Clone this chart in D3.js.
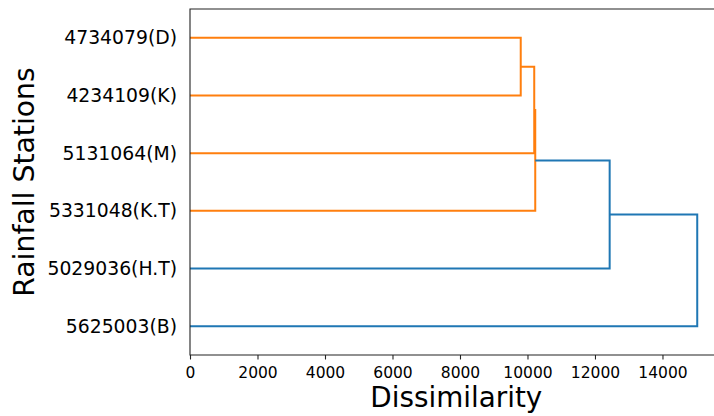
<!DOCTYPE html>
<html>
<head>
<meta charset="utf-8">
<script src="https://cdn.jsdelivr.net/npm/d3@7"></script>
<style>
  body { margin: 0; background: #fff; }
  svg { display: block; font-family: "DejaVu Sans", sans-serif; }
</style>
</head>
<body>
<div id="chart-container"></div>
<script>
// leaves in dendrogram order, bottom to top
const stations = ["5625003(B)", "5029036(H.T)", "5331048(K.T)", "5131064(M)", "4234109(K)", "4734079(D)"];

// linkage rows: cluster a + cluster b joined at distance (new ids start at 6)
const mergeA = [5, 6, 7, 8, 9];
const mergeB = [4, 3, 2, 1, 0];
const mergeDist = [9800, 10200, 10230, 12435, 15030];

const xTicks = [0, 2000, 4000, 6000, 8000, 10000, 12000, 14000];

const width = 714, height = 416;
const margin = { top: 9, left: 190, right: -8.6, bottom: 61 };

const svg = d3.select("#chart-container").append("svg")
  .attr("width", width)
  .attr("height", height);

const x = d3.scaleLinear()
  .domain([0, d3.max(mergeDist) * 1.05])
  .range([margin.left, width - margin.right]);

const y = d3.scaleLinear()
  .domain([0, stations.length * 10])
  .range([height - margin.bottom, margin.top]);

// positions of every cluster (leaves first)
let nodeY = stations.map((d, i) => 5 + i * 10);
let nodeX = stations.map(() => 0);
let links = [];
const threshold = 0.7 * d3.max(mergeDist);

mergeDist.forEach((dist, i) => {
  const a = mergeA[i], b = mergeB[i];
  links.push({
    ya: nodeY[a], xa: nodeX[a],
    yb: nodeY[b], xb: nodeX[b],
    d: dist,
    color: dist < threshold ? "#ff7f0e" : "#1f77b4"
  });
  nodeY.push((nodeY[a] + nodeY[b]) / 2);
  nodeX.push(dist);
});

let g = svg.append("g");

g.selectAll(".link")
  .data(links)
  .enter().append("path")
  .attr("class", "link")
  .attr("fill", "none")
  .attr("stroke", d => d.color)
  .attr("stroke-width", 2)
  .attr("d", d => `M${x(d.xa)},${y(d.ya)}H${x(d.d)}V${y(d.yb)}H${x(d.xb)}`);

// spines (top, left, bottom; right one falls outside the window)
svg.append("path")
  .attr("fill", "none")
  .attr("stroke", "#222")
  .attr("stroke-width", 1.1)
  .attr("d", `M${x.range()[1]},${y(60)}H${x(0)}V${y(0)}H${x.range()[1]}`);

// x axis
const xAxis = svg.append("g")
  .attr("transform", `translate(0,${y(0)})`)
  .call(d3.axisBottom(x).tickValues(xTicks).tickFormat(d3.format("d")).tickSize(4.5).tickPadding(7.2));
xAxis.select(".domain").remove();
xAxis.selectAll("line").attr("stroke", "#222").attr("stroke-width", 1.1);
xAxis.selectAll("text")
  .attr("fill", "#000")
  .style("font-size", "15.5px")
  .style("font-family", "DejaVu Sans");

// y axis with station names
const yAxis = svg.append("g")
  .attr("transform", `translate(${x(0)},0)`)
  .call(d3.axisLeft(y).tickValues(nodeY.slice(0, stations.length)).tickFormat((d, i) => stations[i]).tickSize(0).tickPadding(13));
yAxis.select(".domain").remove();
yAxis.selectAll("text")
  .attr("fill", "#000")
  .style("font-size", "18.8px")
  .style("font-family", "DejaVu Sans");

// axis titles
svg.append("text")
  .attr("x", (x.range()[0] + x.range()[1]) / 2)
  .attr("y", 407)
  .attr("text-anchor", "middle")
  .style("font-size", "27.8px")
  .text("Dissimilarity");

svg.append("text")
  .attr("transform", `translate(33.5,${(y(0) + y(60)) / 2}) rotate(-90)`)
  .attr("text-anchor", "middle")
  .style("font-size", "28.3px")
  .text("Rainfall Stations");
</script>
</body>
</html>
